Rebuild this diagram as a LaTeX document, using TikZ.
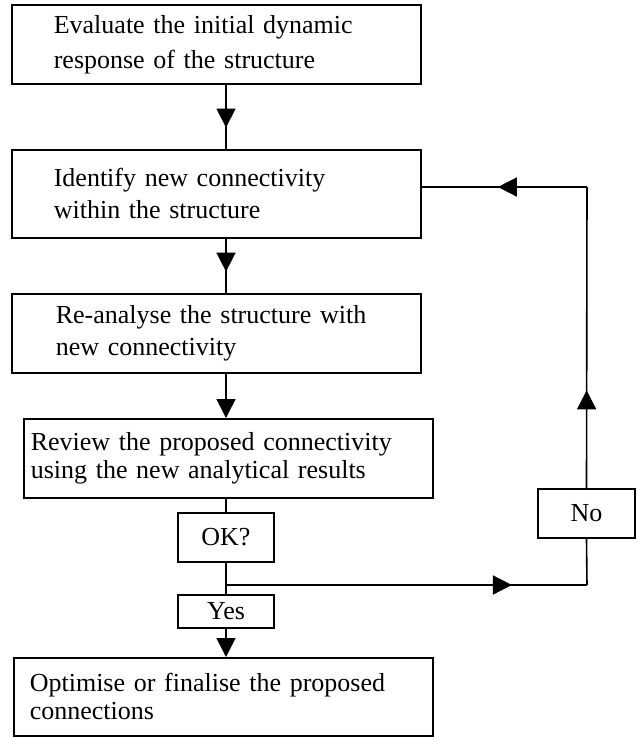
\documentclass[tikz,border=0pt]{standalone}
\usepackage{fontspec}
\setmainfont{Liberation Serif}
\usetikzlibrary{positioning,arrows.meta,decorations.markings}

\tikzset{
  stepbox/.style={draw, line width=1.6pt, anchor=north west, align=left, inner ysep=0pt},
  tagbox/.style={draw, line width=1.6pt, inner sep=0pt, font=\fontsize{26}{30}\selectfont},
  flow/.style={line width=1.6pt},
  flowend/.style={line width=1.6pt, -{Triangle[length=19pt,width=19pt]}},
  tipat/.style={postaction={decorate}, decoration={markings,
      mark=at position #1 with {\arrow{Triangle[length=19pt,width=19pt]}}}}
}

\begin{document}
\begin{tikzpicture}[x=1pt, y=-1pt]
    \useasboundingbox (0,0) rectangle (637,737);
    % Steps of the procedure
    \node[stepbox, text width=325pt, inner xsep=42pt, minimum height=79pt,
          font=\fontsize{26}{35}\selectfont] (evaluate) at (11,4)
      {Evaluate the initial dynamic\\response of the structure};
    \node[stepbox, text width=325pt, inner xsep=42pt, minimum height=88pt,
          font=\fontsize{26}{32}\selectfont] (identify) at (11,149)
      {Identify new connectivity\\within the structure};
    \node[stepbox, text width=321pt, inner xsep=44pt, minimum height=79pt,
          font=\fontsize{26}{32}\selectfont] (reanalyse) at (11,293)
      {Re-analyse the structure with\\new connectivity};
    \node[stepbox, text width=395pt, inner xsep=7pt, minimum height=79pt,
          font=\fontsize{26}{28}\selectfont] (review) at (23,418)
      {Review the proposed connectivity\\using the new analytical results};
    \node[stepbox, text width=387pt, inner xsep=16pt, minimum height=78pt,
          font=\fontsize{26}{28}\selectfont] (optimise) at (13,657)
      {Optimise or finalise the proposed\\connections};
    % Decision labels
    \node[tagbox, minimum width=96pt, minimum height=49pt] (ok) at (226,537.5) {OK?};
    \node[tagbox, minimum width=96pt, minimum height=33pt] (yes) at (226,611.5) {Yes};
    \node[tagbox, minimum width=97pt, minimum height=49pt] (no) at (586.5,513.5) {No};
    % Corners of the loop
    \coordinate (split) at (226,585);
    \coordinate (nofoot) at (587,585);
    \coordinate (corner) at (587,187);
    % Main line
    \draw[flow, tipat=0.667] (evaluate.south -| ok) -- (identify.north -| ok);
    \draw[flow, tipat=0.607] (identify.south -| ok) -- (reanalyse.north -| ok);
    \draw[flowend] (reanalyse.south -| ok) -- (review.north -| ok);
    \draw[flow] (review.south -| ok) -- (ok.north);
    \draw[flow] (ok.south) -- (yes.north);
    \draw[flowend] (yes.south) -- (yes.south |- optimise.north);
    % Loop back
    \draw[flow, tipat=0.792] (split) -- (nofoot);
    \draw[flow] (nofoot) -- (no.south);
    \draw[flow, tipat=0.325] (no.north) -- (corner);
    \draw[flow, tipat=0.539] (corner) -- (corner -| identify.east);
\end{tikzpicture}
\end{document}
